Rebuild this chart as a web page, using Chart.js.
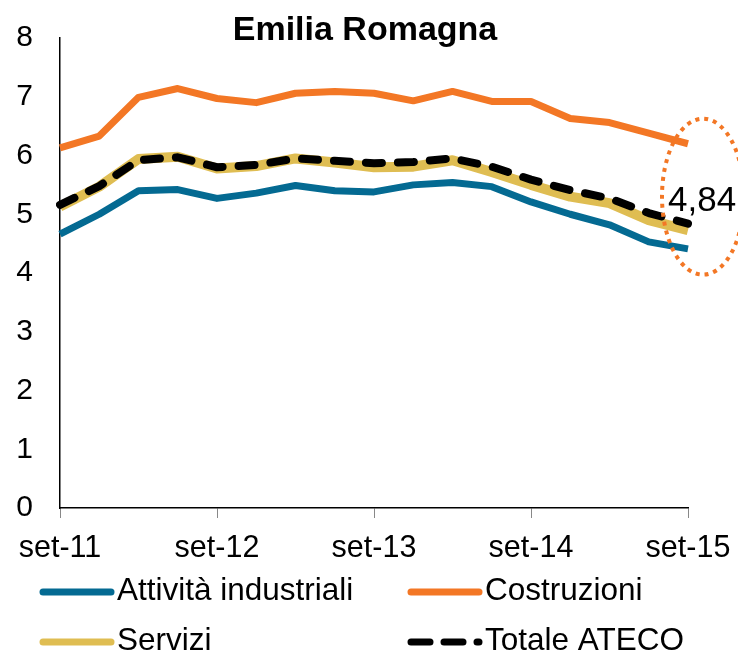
<!DOCTYPE html>
<html>
<head>
<meta charset="utf-8">
<script src="https://cdn.jsdelivr.net/npm/chart.js"></script>
<style>
  html, body { margin: 0; padding: 0; background: #fff; }
  #wrap { width: 738px; height: 656px; position: relative; }
</style>
</head>
<body>
<div id="wrap"><canvas id="chart"></canvas></div>
<script>
// quarterly data, set-11 .. set-15
const quarters = ['set-11', 'dic-11', 'mar-12', 'giu-12', 'set-12', 'dic-12', 'mar-13', 'giu-13',
  'set-13', 'dic-13', 'mar-14', 'giu-14', 'set-14', 'dic-14', 'mar-15', 'giu-15', 'set-15'];
const attivita = [4.66, 5.00, 5.40, 5.42, 5.27, 5.36, 5.49, 5.40, 5.38, 5.50, 5.54, 5.47, 5.21, 5.00, 4.82, 4.53, 4.41];
const costruzioni = [6.13, 6.33, 6.99, 7.14, 6.97, 6.90, 7.06, 7.09, 7.06, 6.93, 7.09, 6.92, 6.92, 6.63, 6.56, 6.38, 6.20];
const servizi = [5.13, 5.47, 5.94, 5.98, 5.78, 5.82, 5.95, 5.88, 5.80, 5.81, 5.92, 5.72, 5.50, 5.30, 5.19, 4.90, 4.73];
const totale = [5.16, 5.48, 5.92, 5.97, 5.80, 5.84, 5.95, 5.91, 5.87, 5.89, 5.95, 5.81, 5.59, 5.41, 5.27, 5.02, 4.84];
const yTicks = [0, 1, 2, 3, 4, 5, 6, 7, 8];

const FONT = '"Liberation Sans", Arial, sans-serif';
const BLUE = '#046a92';
const ORANGE = '#f37725';
const YELLOW = '#dfbd52';

// title, legend and the circled label on the last point
const extras = {
  id: 'extras',
  afterDraw(chart) {
    const ctx = chart.ctx;
    ctx.save();
    ctx.fillStyle = '#000';
    ctx.font = 'bold 34px ' + FONT;
    ctx.textAlign = 'center';
    ctx.textBaseline = 'alphabetic';
    ctx.fillText('Emilia Romagna', 365, 40);

    // label on last Totale point
    const meta = chart.getDatasetMeta(3);
    const pt = meta.data[meta.data.length - 1];
    const v = totale[totale.length - 1];
    ctx.font = '35px ' + FONT;
    ctx.textAlign = 'left';
    ctx.fillText(v.toFixed(2).replace('.', ','), pt.x - 20, pt.y - 13);

    ctx.beginPath();
    ctx.setLineDash([4, 5]);
    ctx.lineWidth = 4;
    ctx.strokeStyle = ORANGE;
    ctx.ellipse(pt.x + 15, pt.y - 27, 41, 78, 0, 0, Math.PI * 2);
    ctx.stroke();
    ctx.setLineDash([]);

    // legend
    const items = [
      { text: 'Attività industriali', color: BLUE, x: 43, y: 592, dash: null },
      { text: 'Costruzioni', color: ORANGE, x: 411, y: 592, dash: null },
      { text: 'Servizi', color: YELLOW, x: 43, y: 642, dash: null },
      { text: 'Totale ATECO', color: '#000', x: 411, y: 642, dash: [19, 14] }
    ];
    ctx.font = '31.5px ' + FONT;
    ctx.textBaseline = 'alphabetic';
    items.forEach(it => {
      ctx.beginPath();
      ctx.lineWidth = 7;
      ctx.lineCap = 'round';
      ctx.strokeStyle = it.color;
      ctx.setLineDash(it.dash || []);
      ctx.moveTo(it.x, it.y);
      ctx.lineTo(it.x + 68, it.y);
      ctx.stroke();
      ctx.setLineDash([]);
      ctx.fillStyle = '#000';
      ctx.fillText(it.text, it.x + 74, it.y + 8);
    });
    ctx.restore();
  }
};

const ctx = document.getElementById('chart').getContext('2d');
new Chart(ctx, {
  type: 'line',
  data: {
    labels: quarters,
    datasets: [
      { label: 'Attività industriali', data: attivita, borderColor: BLUE, borderWidth: 7, order: 3 },
      { label: 'Costruzioni', data: costruzioni, borderColor: ORANGE, borderWidth: 7, order: 2 },
      { label: 'Servizi', data: servizi, borderColor: YELLOW, borderWidth: 10, order: 1 },
      { label: 'Totale ATECO', data: totale, borderColor: '#000', borderWidth: 8,
        borderDash: [16, 16], borderCapStyle: 'round', order: 0 }
    ]
  },
  options: {
    responsive: true,
    maintainAspectRatio: false,
    animation: false,
    elements: {
      point: { radius: 0 },
      line: { tension: 0, borderJoinStyle: 'round', fill: false }
    },
    layout: { padding: { top: 38, right: 50, bottom: 89, left: 0 } },
    plugins: { legend: { display: false }, tooltip: { enabled: false }, title: { display: false } },
    scales: {
      x: {
        grid: {
          display: true,
          drawOnChartArea: false,
          drawTicks: true,
          tickLength: 10,
          color: c => (c.index % 4 === 0 ? '#888' : 'rgba(0,0,0,0)')
        },
        border: { display: true, color: '#000', width: 1.5 },
        ticks: {
          autoSkip: false,
          maxRotation: 0,
          padding: 12,
          color: '#000',
          font: { family: FONT, size: 30.5 },
          callback: function (val, i) { return i % 4 === 0 ? quarters[i] : ''; }
        },
        afterFit: s => { s.height = 59; s.paddingLeft = 0; s.paddingRight = 0; }
      },
      y: {
        min: yTicks[0],
        max: yTicks[yTicks.length - 1],
        grid: { display: false, drawTicks: false },
        border: { display: true, color: '#000', width: 1.5 },
        ticks: {
          stepSize: 1,
          padding: 27,
          color: '#000',
          font: { family: FONT, size: 30 }
        },
        afterFit: s => { s.width = 60; s.paddingTop = 0; s.paddingBottom = 0; }
      }
    }
  },
  plugins: [extras]
});
</script>
</body>
</html>
